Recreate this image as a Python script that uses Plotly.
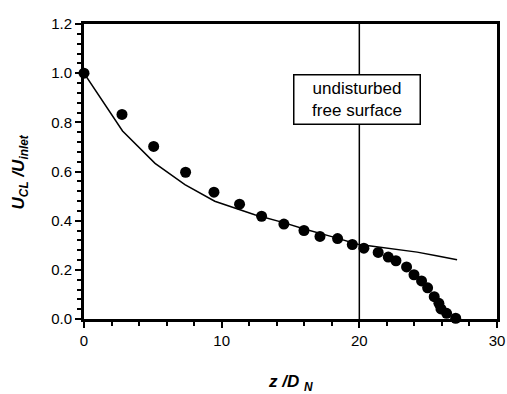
import plotly.graph_objects as go

# Experimental points (z/D_N, U_CL/U_inlet)
exp_z = [0.0, 2.76, 5.06, 7.38, 9.44, 11.3, 12.9, 14.52, 15.98, 17.14, 18.42, 19.49,
         20.33, 21.37, 22.1, 22.66, 23.43, 23.97, 24.52, 24.96, 25.44, 25.78, 25.93,
         26.34, 27.0]
exp_u = [1.0, 0.832, 0.702, 0.597, 0.516, 0.467, 0.418, 0.386, 0.360, 0.336, 0.327, 0.303,
         0.288, 0.271, 0.252, 0.237, 0.212, 0.180, 0.155, 0.127, 0.091, 0.064, 0.041,
         0.023, 0.003]

# Model curve
mod_z = [0.0, 2.8, 5.16, 7.33, 9.5, 12.4, 14.5, 16.0, 18.0, 20.0, 20.7, 22.95, 24.2, 25.6, 27.1]
mod_u = [1.0, 0.765, 0.633, 0.547, 0.479, 0.424, 0.392, 0.366, 0.335, 0.302, 0.298, 0.282,
         0.272, 0.257, 0.241]

surface_z = 20
note_text = "undisturbed<br>free surface"
x_ticks = [0, 10, 20, 30]
y_ticks = [0, 0.2, 0.4, 0.6, 0.8, 1.0, 1.2]
y_ticklabels = ["0.0", "0.2", "0.4", "0.6", "0.8", "1.0", "1.2"]

FAM = "Liberation Sans, Arial, sans-serif"
tickfont = dict(family=FAM, size=15, color="black")

fig = go.Figure()
fig.add_trace(go.Scatter(x=mod_z, y=mod_u, mode="lines",
                         line=dict(color="black", width=1.5), showlegend=False))
fig.add_trace(go.Scatter(x=exp_z, y=exp_u, mode="markers",
                         marker=dict(color="black", size=11), showlegend=False,
                         cliponaxis=False))

fig.add_shape(type="line", x0=surface_z, x1=surface_z, y0=0, y1=1.2,
              xref="x", yref="y", line=dict(color="black", width=1.5))

fig.add_annotation(x=19.83, y=0.894, xref="x", yref="y", text=note_text,
                   showarrow=False, font=dict(family=FAM, size=17, color="black"),
                   bgcolor="white", bordercolor="black", borderwidth=1.5,
                   borderpad=2, width=121, height=44, align="center")

# axis titles
fig.add_annotation(x=-0.155, y=0.5, xref="paper", yref="paper", textangle=-90,
                   text="<b><i>U<sub>CL</sub> /U<sub>inlet</sub></i></b>", showarrow=False,
                   xanchor="center", yanchor="middle",
                   font=dict(family=FAM, size=17, color="black"))
fig.add_annotation(x=0.5, y=-0.217, xref="paper", yref="paper",
                   text="<b><i>z /D <sub>N</sub></i></b>", showarrow=False,
                   xanchor="center", yanchor="middle",
                   font=dict(family=FAM, size=17, color="black"))

fig.update_layout(
    width=507, height=394,
    margin=dict(l=84, r=10, t=24, b=75, autoexpand=False),
    paper_bgcolor="white", plot_bgcolor="white",
    font=tickfont,
    xaxis=dict(range=[0, 30], tickvals=x_ticks, ticks="outside", ticklen=6,
               tickwidth=1.5, tickcolor="black",
               minor=dict(dtick=2, ticks="outside", ticklen=4, tickwidth=1.5, tickcolor="black"),
               showline=True, linewidth=3, linecolor="black", mirror=True,
               showgrid=False, zeroline=False, tickfont=tickfont, automargin=False),
    yaxis=dict(range=[0, 1.2], tickvals=y_ticks, ticktext=y_ticklabels,
               ticks="outside", ticklen=6, tickwidth=1.5, tickcolor="black",
               minor=dict(dtick=0.04, ticks="outside", ticklen=4, tickwidth=1.5, tickcolor="black"),
               showline=True, linewidth=3, linecolor="black", mirror=True,
               showgrid=False, zeroline=False, tickfont=tickfont, automargin=False),
)

fig.write_html("out.html", config={"displayModeBar": False},
               post_script="document.body.style.margin='0';document.body.style.overflow='hidden';")
